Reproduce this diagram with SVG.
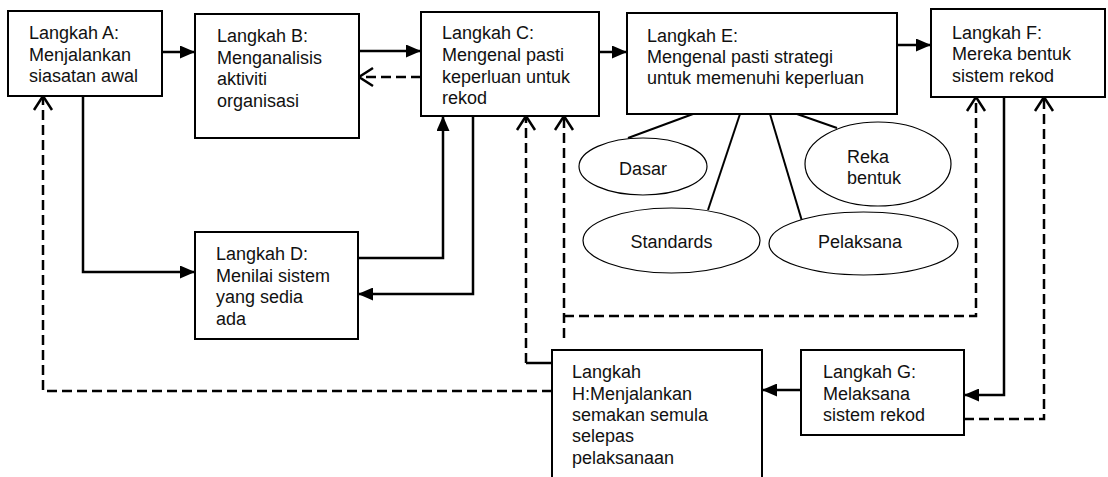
<svg xmlns="http://www.w3.org/2000/svg" width="1108" height="477" viewBox="0 0 1108 477">
<style>
.box{fill:#fff;stroke:#000;stroke-width:2}
.ell{fill:#fff;stroke:#000;stroke-width:1.2}
.t{font-family:"Liberation Sans",Arial,sans-serif;font-size:18px;fill:#111}
.c{text-anchor:middle}
.ln{fill:none;stroke:#000;stroke-width:2.5}
.dash{fill:none;stroke:#000;stroke-width:2.5;stroke-dasharray:10 5}
.sp{fill:none;stroke:#000;stroke-width:2}
</style>
<defs>
<marker id="fa" markerUnits="userSpaceOnUse" markerWidth="15" markerHeight="13" refX="15" refY="6.5" orient="auto" viewBox="0 0 15 13">
<path d="M0,0 L15,6.5 L0,13 z" fill="#000"/>
</marker>
<marker id="oa" markerUnits="userSpaceOnUse" markerWidth="20" markerHeight="24" refX="16" refY="12" orient="auto" viewBox="0 0 20 24" style="overflow:visible">
<path d="M2,3 L16,12 L2,21" fill="none" stroke="#000" stroke-width="2.5" stroke-dasharray="none"/>
</marker>
</defs>
<g id="connectors">
<path class="ln" d="M162,52 H195" marker-end="url(#fa)"/>
<path class="ln" d="M359,51 H421" marker-end="url(#fa)"/>
<path class="dash" d="M421,77 H359" marker-end="url(#oa)"/>
<path class="ln" d="M599,52 H627" marker-end="url(#fa)"/>
<path class="ln" d="M897,45 H931" marker-end="url(#fa)"/>
<path class="ln" d="M83,96 V272 H195" marker-end="url(#fa)"/>
<path class="ln" d="M358,258 H443 V116" marker-end="url(#fa)"/>
<path class="ln" d="M473,116 V294 H358" marker-end="url(#fa)"/>
<path class="ln" d="M1004,97 V395 H964" marker-end="url(#fa)"/>
<path class="ln" d="M801,390 H762" marker-end="url(#fa)"/>
<path class="dash" d="M964,419 H1044 V97" marker-end="url(#oa)"/>
<path class="dash" d="M552,391 H43 V96" marker-end="url(#oa)"/>
<path class="ln" d="M552,363 H526"/>
<path class="dash" d="M526,363 V116" marker-end="url(#oa)"/>
<path class="dash" d="M564,338 V116" marker-end="url(#oa)"/>
<path class="dash" d="M564,316 H976 V97" marker-end="url(#oa)"/>
<path class="sp" d="M693,114 L628,138"/>
<path class="sp" d="M740,114 L708,210"/>
<path class="sp" d="M770,114 L802,221"/>
<path class="sp" d="M797,114 L837,128"/>
</g>
<g id="nodeA">
<rect class="box" x="8" y="11" width="154" height="85"/>
<text class="t" x="29" y="39">Langkah A:</text>
<text class="t" x="29" y="60.5">Menjalankan</text>
<text class="t" x="29" y="82">siasatan awal</text>
</g>
<g id="nodeB">
<rect class="box" x="195" y="14" width="164" height="124"/>
<text class="t" x="217" y="42">Langkah B:</text>
<text class="t" x="217" y="63.5">Menganalisis</text>
<text class="t" x="217" y="85">aktiviti</text>
<text class="t" x="217" y="106.5">organisasi</text>
</g>
<g id="nodeC">
<rect class="box" x="421" y="12" width="178" height="104"/>
<text class="t" x="442" y="39">Langkah C:</text>
<text class="t" x="442" y="61">Mengenal pasti</text>
<text class="t" x="442" y="82.5">keperluan untuk</text>
<text class="t" x="442" y="104">rekod</text>
</g>
<g id="nodeE">
<rect class="box" x="627" y="13" width="270" height="101"/>
<text class="t" x="647" y="42">Langkah E:</text>
<text class="t" x="647" y="63">Mengenal pasti strategi</text>
<text class="t" x="647" y="84">untuk memenuhi keperluan</text>
</g>
<g id="nodeF">
<rect class="box" x="931" y="9" width="174" height="88"/>
<text class="t" x="952" y="38.5">Langkah F:</text>
<text class="t" x="952" y="60">Mereka bentuk</text>
<text class="t" x="952" y="81.5">sistem rekod</text>
</g>
<g id="nodeD">
<rect class="box" x="195" y="232" width="163" height="107"/>
<text class="t" x="216" y="260">Langkah D:</text>
<text class="t" x="216" y="281.5">Menilai sistem</text>
<text class="t" x="216" y="303">yang sedia</text>
<text class="t" x="216" y="324.5">ada</text>
</g>
<g id="nodeG">
<rect class="box" x="801" y="350" width="163" height="85"/>
<text class="t" x="823" y="378">Langkah G:</text>
<text class="t" x="823" y="400">Melaksana</text>
<text class="t" x="823" y="421">sistem rekod</text>
</g>
<g id="nodeH">
<rect class="box" x="552" y="350" width="210" height="140"/>
<text class="t" x="572" y="378">Langkah</text>
<text class="t" x="572" y="399.5">H:Menjalankan</text>
<text class="t" x="572" y="421">semakan semula</text>
<text class="t" x="572" y="442">selepas</text>
<text class="t" x="572" y="463.5">pelaksanaan</text>
</g>
<g id="ellDasar">
<ellipse class="ell" cx="643" cy="166.5" rx="64" ry="28.5"/>
<text class="t c" x="643" y="175">Dasar</text>
</g>
<g id="ellReka">
<ellipse class="ell" cx="878" cy="164" rx="73" ry="42"/>
<text class="t" x="847" y="163">Reka</text>
<text class="t" x="847" y="183.5">bentuk</text>
</g>
<g id="ellStandards">
<ellipse class="ell" cx="671.5" cy="240.5" rx="88.5" ry="32.5"/>
<text class="t c" x="671.5" y="248">Standards</text>
</g>
<g id="ellPelaksana">
<ellipse class="ell" cx="863.5" cy="243.5" rx="94.5" ry="31.5"/>
<text class="t c" x="860" y="248">Pelaksana</text>
</g>
</svg>
